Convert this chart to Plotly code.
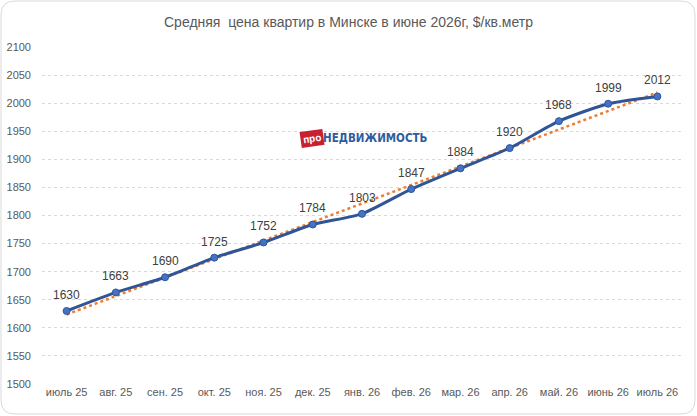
import numpy as np
import plotly.graph_objects as go

# monthly average price, $/sq.m
months = ['июль 25', 'авг. 25', 'сен. 25', 'окт. 25', 'ноя. 25', 'дек. 25', 'янв. 26',
          'фев. 26', 'мар. 26', 'апр. 26', 'май. 26', 'июнь 26', 'июль 26']
prices = [1630, 1663, 1690, 1725, 1752, 1784, 1803, 1847, 1884, 1920, 1968, 1999, 2012]
y_ticks = list(range(1500, 2101, 50))

W, H = 697, 416
L, R, T, B = 42, 15, 47, 32

# linear trendline, like Excel's
idx = np.arange(len(prices))
k, b = np.polyfit(idx, prices, 1)
trend = k * idx + b

fig = go.Figure()
fig.add_trace(go.Scatter(x=months, y=trend, mode='lines',
                         line=dict(color='#ED7D31', width=2.5, dash='dot'),
                         hoverinfo='skip'))
fig.add_trace(go.Scatter(x=months, y=prices, mode='lines+markers',
                         line=dict(color='#2F5597', width=3, shape='spline', smoothing=0.6),
                         marker=dict(color='#4472C4', size=7, line=dict(color='#2F5597', width=1))))

# data labels a bit above the points
for m, p in zip(months, prices):
    fig.add_annotation(x=m, y=p, text=str(p), showarrow=False, yshift=16,
                       font=dict(family='Liberation Sans', size=12, color='#404040'))

fig.update_layout(
    width=W, height=H,
    margin=dict(l=L, r=R, t=T, b=B),
    paper_bgcolor='white', plot_bgcolor='white',
    showlegend=False,
    font=dict(family='Liberation Sans', color='#595959'),
    title=dict(text='Средняя  цена квартир в Минске в июне 2026г, $/кв.метр',
               x=0.5, xanchor='center', y=0.947, yanchor='middle',
               font=dict(size=14, color='#595959')),
    xaxis=dict(type='category', range=[-0.5, len(months) - 0.5], showgrid=False,
               showline=False, ticks='', automargin=False,
               tickfont=dict(size=11, color='#595959')),
    yaxis=dict(range=[1500, 2100], tickvals=y_ticks, showgrid=True,
               gridcolor='#D9D9D9', griddash='dot', gridwidth=1, zeroline=False,
               ticks='', ticklabelstandoff=10, automargin=False,
               tickfont=dict(size=11, color='#595959')),
)


# chart border with rounded corners, drawn in pixels and mapped to paper coords
def px(x, y):
    return (x - L) / (W - L - R), (H - B - y) / (H - T - B)


def border_path(x0, y0, x1, y1, r):
    pts = []
    cmds = [('M', x0 + r, y0), ('L', x1 - r, y0), ('Q', x1, y0, x1, y0 + r),
            ('L', x1, y1 - r), ('Q', x1, y1, x1 - r, y1), ('L', x0 + r, y1),
            ('Q', x0, y1, x0, y1 - r), ('L', x0, y0 + r), ('Q', x0, y0, x0 + r, y0)]
    for c in cmds:
        coords = []
        for i in range(1, len(c), 2):
            a, bb = px(c[i], c[i + 1])
            coords.append('%.5f,%.5f' % (a, bb))
        pts.append(c[0] + ' ' + ' '.join(coords))
    return ' '.join(pts) + ' Z'


fig.add_shape(type='path', xref='paper', yref='paper', layer='below',
              path=border_path(1, 1, W - 2, H - 2, 14),
              line=dict(color='#D9D9D9', width=1))

# logo
fig.add_annotation(xref='paper', yref='paper', x=px(311.5, 0)[0], y=px(0, 138)[1],
                   xanchor='center', yanchor='middle',
                   text='<b>про</b>', showarrow=False, textangle=-8,
                   font=dict(family='Liberation Sans', size=10, color='white'),
                   bgcolor='#C8202F', borderpad=2)
fig.add_annotation(xref='paper', yref='paper', x=px(321, 0)[0], y=px(0, 138)[1],
                   xanchor='left', yanchor='middle',
                   text='<b>НЕДВИЖИМОСТЬ</b>', showarrow=False,
                   font=dict(family='Liberation Sans Narrow, DejaVu Sans Condensed, Liberation Sans',
                             size=11.5, color='#2E5C9E'))

fig.write_html('out.html', config={'displayModeBar': False},
               post_script="document.body.style.margin='0';")
